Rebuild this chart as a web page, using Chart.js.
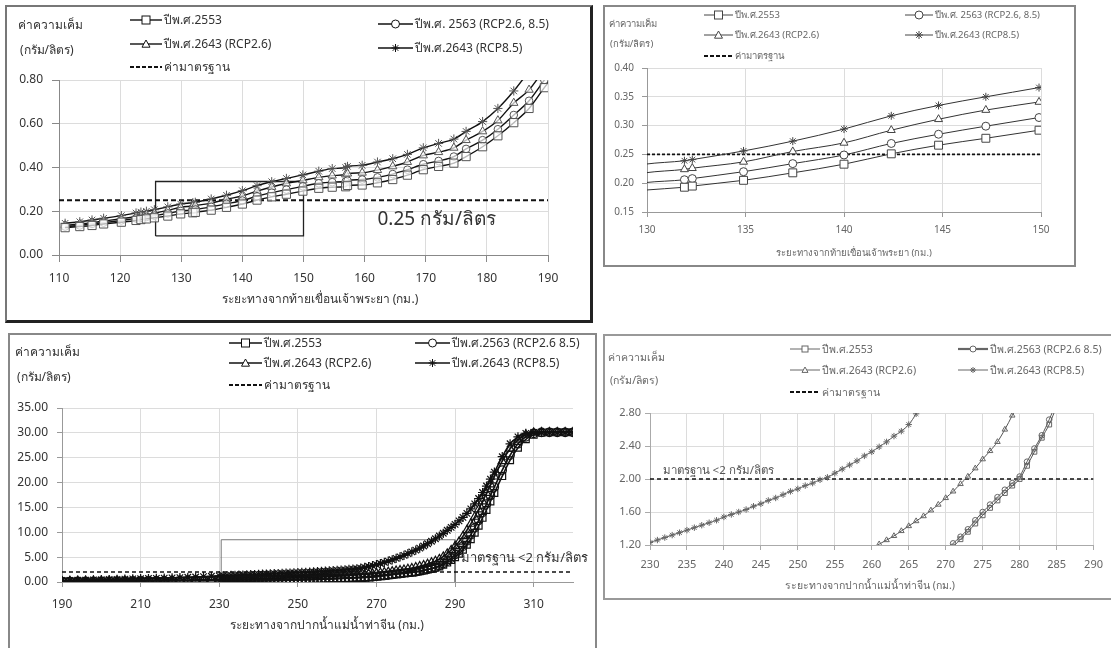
<!DOCTYPE html>
<html>
<head>
<meta charset="utf-8">
<script src="https://cdn.jsdelivr.net/npm/chart.js@4.4.1/dist/chart.umd.min.js"></script>
<style>
  body { margin: 0; width: 1111px; height: 648px; overflow: hidden; background: #fff; position: relative;
         font-family: Tahoma, "Noto Sans", sans-serif; }
  .box { position: absolute; box-sizing: border-box; }
  canvas { position: absolute; }
  .t { position: absolute; white-space: nowrap; line-height: 1; transform: translateY(-50%); }
  .c { transform: translate(-50%, -50%); }
  .leg { position: absolute; white-space: nowrap; display: flex; align-items: center; transform: translateY(-50%); line-height: 1; }
  .leg svg { margin-right: 2px; }
</style>
</head>
<body>
<div class="box" style="left:5px;top:5px;width:588px;height:318px;border:2px solid #777;border-right:3px solid #222;border-bottom:3px solid #222"></div>
<div class="box" style="left:603px;top:5px;width:473px;height:262px;border:2px solid #888"></div>
<div class="box" style="left:8px;top:333px;width:589px;height:340px;border:2px solid #888"></div>
<div class="box" style="left:603px;top:334px;width:530px;height:266px;border:2px solid #999"></div>

<canvas id="c1" width="600" height="320" style="left:0;top:0"></canvas>
<canvas id="c2" width="480" height="270" style="left:600px;top:0"></canvas>
<canvas id="c3" width="600" height="328" style="left:0;top:320px"></canvas>
<canvas id="c4" width="511" height="290" style="left:600px;top:320px"></canvas>

<script>
// แม่น้ำเจ้าพระยา: distance (km) and salinity (g/l)
const kmCP = [111, 113.4, 115.4, 117.3, 120.2, 122.6, 123.4, 124.3, 125.6, 127.8, 129.9, 131.9, 132.3, 134.9, 137.4, 140, 142.4, 144.8, 147.2, 149.9,
  152.5, 154.7, 156.9, 157.2, 159.6, 162.1, 164.6, 167, 169.6, 172.1, 174.6, 176.6, 179.3, 181.8, 184.4, 186.9, 189.4, 191.5]
const cp2553 = [0.125, 0.130, 0.135, 0.142, 0.150, 0.158, 0.162, 0.165, 0.170, 0.178, 0.188, 0.193, 0.195, 0.205, 0.218, 0.233, 0.251, 0.266, 0.278, 0.292,
  0.305, 0.310, 0.312, 0.318, 0.320, 0.330, 0.345, 0.365, 0.390, 0.405, 0.420, 0.450, 0.495, 0.545, 0.605, 0.670, 0.765, 0.840]
const cp2563 = [0.130, 0.135, 0.142, 0.148, 0.158, 0.167, 0.170, 0.174, 0.180, 0.190, 0.201, 0.206, 0.208, 0.220, 0.234, 0.249, 0.269, 0.285, 0.299, 0.314,
  0.328, 0.333, 0.336, 0.340, 0.345, 0.355, 0.370, 0.390, 0.415, 0.430, 0.450, 0.485, 0.525, 0.575, 0.640, 0.705, 0.800, 0.880]
const cp2643a = [0.135, 0.142, 0.148, 0.155, 0.166, 0.176, 0.180, 0.184, 0.191, 0.204, 0.218, 0.224, 0.226, 0.237, 0.255, 0.270, 0.292, 0.311, 0.327, 0.341,
  0.355, 0.363, 0.368, 0.372, 0.376, 0.388, 0.405, 0.425, 0.455, 0.470, 0.490, 0.525, 0.565, 0.615, 0.695, 0.755, 0.850, 0.930]
const cp2643b = [0.145, 0.152, 0.160, 0.168, 0.180, 0.192, 0.196, 0.200, 0.207, 0.220, 0.233, 0.239, 0.241, 0.256, 0.273, 0.294, 0.317, 0.335, 0.350, 0.366,
  0.383, 0.395, 0.400, 0.405, 0.410, 0.425, 0.440, 0.460, 0.490, 0.510, 0.530, 0.565, 0.610, 0.670, 0.750, 0.840, 0.930, 1.000]
const cpStandard = 0.25
const cpBox = [[125.8, 0.087], [125.8, 0.336], [150, 0.336], [150, 0.087], [125.8, 0.087]]

// แม่น้ำท่าจีน
const kmTC = [190, 192, 194, 196, 198, 200, 202, 204, 206, 208, 210, 212, 214, 216, 218, 220, 222, 224, 226, 228,
  230, 231, 232, 233, 234, 235, 236, 237, 238, 239, 240, 241, 242, 243, 244, 245, 246, 247, 248, 249,
  250, 251, 252, 253, 254, 255, 256, 257, 258, 259, 260, 261, 262, 263, 264, 265, 266, 267, 268, 269,
  270, 271, 272, 273, 274, 275, 276, 277, 278, 279, 280, 281, 282, 283, 284, 285, 286, 287, 288, 289,
  290, 291, 292, 293, 294, 295, 296, 297, 298, 299, 300,
  302, 304, 306, 308, 310, 312, 314, 316, 318, 320]
const tc2553 = [0.08, 0.09, 0.10, 0.11, 0.12, 0.13, 0.14, 0.15, 0.16, 0.17, 0.18, 0.19, 0.20, 0.21, 0.22, 0.24, 0.26, 0.28, 0.30, 0.32,
  0.33, 0.34, 0.35, 0.36, 0.37, 0.38, 0.39, 0.40, 0.41, 0.42, 0.43, 0.44, 0.45, 0.46, 0.47, 0.48, 0.49, 0.50, 0.51, 0.52,
  0.53, 0.55, 0.56, 0.58, 0.59, 0.61, 0.63, 0.65, 0.67, 0.69, 0.71, 0.73, 0.75, 0.78, 0.81, 0.84, 0.87, 0.91, 0.96, 1.01,
  1.08, 1.18, 1.27, 1.36, 1.46, 1.56, 1.65, 1.74, 1.83, 1.92, 2.00, 2.16, 2.33, 2.50, 2.66, 2.88, 3.10, 3.45, 3.90, 4.40,
  5.0, 5.7, 6.5, 7.5, 8.6, 9.9, 11.3, 12.9, 14.5, 16.2, 17.9,
  21.3, 24.5, 27.0, 28.7, 29.6, 30.0, 30.1, 30.1, 30.1, 30.1]
const tc2563 = [0.10, 0.11, 0.12, 0.13, 0.14, 0.15, 0.16, 0.17, 0.18, 0.19, 0.20, 0.21, 0.22, 0.23, 0.24, 0.26, 0.28, 0.30, 0.32, 0.34,
  0.35, 0.36, 0.37, 0.38, 0.39, 0.40, 0.41, 0.42, 0.43, 0.44, 0.45, 0.46, 0.47, 0.48, 0.49, 0.50, 0.51, 0.52, 0.53, 0.54,
  0.55, 0.57, 0.58, 0.60, 0.61, 0.63, 0.65, 0.67, 0.69, 0.71, 0.73, 0.75, 0.77, 0.80, 0.83, 0.86, 0.89, 0.93, 0.98, 1.04,
  1.12, 1.22, 1.30, 1.39, 1.50, 1.60, 1.69, 1.78, 1.87, 1.95, 2.03, 2.21, 2.37, 2.53, 2.72, 2.95, 3.30, 3.70, 4.20, 4.80,
  5.5, 6.3, 7.2, 8.3, 9.5, 10.9, 12.4, 14.0, 15.7, 17.4, 19.1,
  22.5, 25.5, 27.8, 29.2, 29.9, 30.1, 30.1, 30.1, 30.1, 30.1]
const tc2643a = [0.15, 0.16, 0.17, 0.18, 0.19, 0.21, 0.22, 0.23, 0.25, 0.26, 0.28, 0.29, 0.31, 0.33, 0.35, 0.37, 0.39, 0.42, 0.45, 0.48,
  0.52, 0.53, 0.55, 0.56, 0.57, 0.58, 0.60, 0.61, 0.62, 0.64, 0.65, 0.67, 0.69, 0.71, 0.73, 0.75, 0.77, 0.79, 0.81, 0.83,
  0.85, 0.87, 0.90, 0.93, 0.95, 0.98, 1.01, 1.05, 1.08, 1.12, 1.16, 1.21, 1.26, 1.31, 1.37, 1.43, 1.49, 1.55, 1.62, 1.69,
  1.77, 1.85, 1.94, 2.03, 2.13, 2.24, 2.34, 2.45, 2.60, 2.77, 2.95, 3.15, 3.35, 3.60, 3.90, 4.20, 4.60, 5.10, 5.70, 6.40,
  7.2, 8.1, 9.2, 10.4, 11.7, 13.1, 14.6, 16.2, 17.9, 19.6, 21.2,
  24.3, 26.8, 28.6, 29.6, 30.0, 30.1, 30.1, 30.1, 30.1, 30.1]
const tc2643b = [0.30, 0.33, 0.36, 0.39, 0.42, 0.46, 0.50, 0.54, 0.58, 0.62, 0.66, 0.70, 0.74, 0.79, 0.84, 0.89, 0.95, 1.01, 1.08, 1.15,
  1.23, 1.26, 1.29, 1.32, 1.35, 1.38, 1.41, 1.44, 1.47, 1.50, 1.54, 1.57, 1.60, 1.63, 1.67, 1.70, 1.74, 1.77, 1.81, 1.85,
  1.88, 1.92, 1.95, 1.99, 2.02, 2.07, 2.12, 2.17, 2.22, 2.28, 2.33, 2.39, 2.45, 2.52, 2.58, 2.66, 2.79, 2.95, 3.12, 3.30,
  3.50, 3.72, 3.95, 4.20, 4.47, 4.75, 5.05, 5.37, 5.70, 6.05, 6.42, 6.82, 7.25, 7.70, 8.20, 8.70, 9.25, 9.80, 10.4, 11.0,
  11.6, 12.3, 13.0, 13.8, 14.7, 15.7, 16.8, 18.0, 19.3, 20.7, 22.1,
  25.2, 27.8, 29.2, 29.9, 30.1, 30.1, 30.1, 30.1, 30.1, 30.1]
const tcStandard = 2
const tcBox = [[230.5, 0], [230.5, 8.5], [290, 8.5], [290, 0]]

// ticks
const x1Ticks = [110, 120, 130, 140, 150, 160, 170, 180, 190]
const y1Ticks = [0, 0.2, 0.4, 0.6, 0.8]
const x2Ticks = [130, 135, 140, 145, 150]
const y2Ticks = [0.15, 0.2, 0.25, 0.3, 0.35, 0.4]
const x3Ticks = [190, 210, 230, 250, 270, 290, 310]
const y3Ticks = [0, 5, 10, 15, 20, 25, 30, 35]
const x4Ticks = [230, 235, 240, 245, 250, 255, 260, 265, 270, 275, 280, 285, 290]
const y4Ticks = [1.2, 1.6, 2.0, 2.4, 2.8]

const labelsCP = ['ปีพ.ศ.2553', 'ปีพ.ศ. 2563 (RCP2.6, 8.5)', 'ปีพ.ศ.2643 (RCP2.6)', 'ปีพ.ศ.2643 (RCP8.5)', 'ค่ามาตรฐาน']
const labelsTC = ['ปีพ.ศ.2553', 'ปีพ.ศ.2563 (RCP2.6 8.5)', 'ปีพ.ศ.2643 (RCP2.6)', 'ปีพ.ศ.2643 (RCP8.5)', 'ค่ามาตรฐาน']
const unit1 = 'ค่าความเค็ม'
const unit2 = '(กรัม/ลิตร)'
const titleCP = 'ระยะทางจากท้ายเขื่อนเจ้าพระยา  (กม.)'
const titleTC = 'ระยะทางจากปากน้ำแม่น้ำท่าจีน (กม.)'

const FONT = 'Tahoma, "Noto Sans", sans-serif'
const styles = ['rect', 'circle', 'triangle', 'star']

function pts(xs, ys) { return xs.map((x, i) => ({ x: x, y: ys[i] })) }

const notePlugin = {
  id: 'note',
  afterDatasetsDraw(chart, args, o) {
    if (!o || !o.text) return
    const ctx = chart.ctx
    ctx.save()
    ctx.font = o.size + 'px ' + FONT
    ctx.fillStyle = o.color
    ctx.textBaseline = 'middle'
    ctx.fillText(o.text, chart.scales.x.getPixelForValue(o.x), chart.scales.y.getPixelForValue(o.y))
    ctx.restore()
  }
}

function makeChart(id, o) {
  const series = o.series.map((ys, i) => ({
    data: pts(o.km, ys),
    borderColor: o.line, borderWidth: o.lw,
    pointStyle: styles[i], pointRadius: o.radius ? o.radius[i] : o.r[i],
    pointBorderColor: o.marker, pointBackgroundColor: o.fill, pointBorderWidth: o.mw,
    cubicInterpolationMode: 'monotone'
  }))
  series.push({
    data: [{ x: o.xTicks[0], y: o.standard }, { x: o.xMax, y: o.standard }],
    borderColor: '#111', borderWidth: o.dw, borderDash: o.dash, pointRadius: 0
  })
  if (o.box) series.push({
    data: o.box.map(p => ({ x: p[0], y: p[1] })),
    borderColor: o.boxColor, borderWidth: o.boxWidth, pointRadius: 0, tension: 0
  })
  const tickFont = { family: FONT, size: o.fs }
  return new Chart(document.getElementById(id), {
    type: 'line',
    data: { datasets: series },
    options: {
      responsive: false, animation: false, events: [], devicePixelRatio: 1,
      layout: { padding: o.padding },
      plugins: { legend: { display: false }, tooltip: { enabled: false }, note: o.note },
      scales: {
        x: {
          type: 'linear', min: o.xTicks[0], max: o.xMax,
          afterBuildTicks: s => { s.ticks = o.xTicks.map(v => ({ value: v })) },
          afterFit: s => { s.height = o.xH },
          ticks: { font: tickFont, color: o.tc, padding: o.xPad, maxRotation: 0, autoSkip: false },
          grid: { color: '#dcdcdc', tickColor: o.axis, tickLength: o.tl },
          border: { color: o.axis, width: 1 }
        },
        y: {
          min: o.yTicks[0], max: o.yTicks[o.yTicks.length - 1],
          afterBuildTicks: s => { s.ticks = o.yTicks.map(v => ({ value: v })) },
          afterFit: s => { s.width = o.yW },
          ticks: { font: tickFont, color: o.tc, padding: o.yPad, callback: v => v.toFixed(2) },
          grid: { color: '#dcdcdc', tickColor: o.axis, tickLength: o.tl },
          border: { color: o.axis, width: 1 }
        }
      }
    },
    plugins: [notePlugin]
  })
}

function icon(type, w, color, lw, r) {
  const h = 14, cy = 7, cx = w / 2
  let s = '<svg width="' + w + '" height="' + h + '">'
  if (type === 'dash') {
    s += '<line x1="0" y1="' + cy + '" x2="' + w + '" y2="' + cy + '" stroke="#111" stroke-width="2" stroke-dasharray="4 2"/>'
    return s + '</svg>'
  }
  s += '<line x1="0" y1="' + cy + '" x2="' + w + '" y2="' + cy + '" stroke="' + color + '" stroke-width="' + lw + '"/>'
  const st = ' fill="#fff" stroke="' + color + '" stroke-width="1"'
  if (type === 'rect') s += '<rect x="' + (cx - r) + '" y="' + (cy - r) + '" width="' + 2 * r + '" height="' + 2 * r + '"' + st + '/>'
  if (type === 'circle') s += '<circle cx="' + cx + '" cy="' + cy + '" r="' + r + '"' + st + '/>'
  if (type === 'triangle') s += '<polygon points="' + (cx - r) + ',' + (cy + r * 0.8) + ' ' + (cx + r) + ',' + (cy + r * 0.8) + ' ' + cx + ',' + (cy - r) + '"' + st + '/>'
  if (type === 'star') {
    s += '<path d="M' + (cx - r) + ' ' + cy + 'H' + (cx + r) + 'M' + cx + ' ' + (cy - r) + 'V' + (cy + r) +
      'M' + (cx - r * 0.7) + ' ' + (cy - r * 0.7) + 'L' + (cx + r * 0.7) + ' ' + (cy + r * 0.7) +
      'M' + (cx - r * 0.7) + ' ' + (cy + r * 0.7) + 'L' + (cx + r * 0.7) + ' ' + (cy - r * 0.7) + '" stroke="' + color + '" stroke-width="1"/>'
  }
  return s + '</svg>'
}

function text(x, y, str, size, color, center) {
  const d = document.createElement('div')
  d.className = center ? 't c' : 't'
  d.style.cssText = 'left:' + x + 'px;top:' + y + 'px;font-size:' + size + 'px;color:' + color
  d.textContent = str
  document.body.appendChild(d)
}

function legend(labels, pos, size, color, lineColor, lws, r) {
  const types = ['rect', 'circle', 'triangle', 'star', 'dash']
  pos.forEach((p, i) => {
    const d = document.createElement('div')
    d.className = 'leg'
    d.style.cssText = 'left:' + p[0] + 'px;top:' + p[1] + 'px;font-size:' + size + 'px;color:' + color
    d.innerHTML = icon(types[i], p[2], lineColor, lws[i], r)
    const sp = document.createElement('span')
    sp.textContent = labels[i]
    d.appendChild(sp)
    document.body.appendChild(d)
  })
}

// chart 1: เจ้าพระยา 110-190
makeChart('c1', {
  km: kmCP, series: [cp2553, cp2563, cp2643a, cp2643b],
  xTicks: x1Ticks, xMax: 190, yTicks: y1Ticks, standard: cpStandard, box: cpBox,
  padding: { top: 80, right: 52, bottom: 0, left: 0 }, xH: 65, yW: 59,
  line: '#111', lw: 1.4, marker: '#555', fill: 'rgba(255,255,255,0.7)', mw: 1, r: [5.8, 3.8, 4.8, 4.6],
  dw: 2, dash: [5, 3], boxColor: '#222', boxWidth: 1.3,
  fs: 12, tc: '#333', axis: '#888', tl: 7, xPad: 9, yPad: 9,
  note: { text: '0.25 กรัม/ลิตร', x: 162.1, y: 0.16, size: 19, color: '#333' }
})

// chart 2: เจ้าพระยา 130-150
makeChart('c2', {
  km: kmCP, series: [cp2553, cp2563, cp2643a, cp2643b],
  xTicks: x2Ticks, xMax: 150, yTicks: y2Ticks, standard: cpStandard,
  padding: { top: 68, right: 39, bottom: 0, left: 0 }, xH: 58, yW: 47,
  line: '#333', lw: 1, marker: '#444', fill: '#fff', mw: 1,
  radius: [0, 1, 2, 3].map(i => c => (c.raw.x < 130.5 ? 0 : [5.6, 4, 4.6, 4][i])),
  dw: 1.6, dash: [3, 2],
  fs: 10, tc: '#666', axis: '#999', tl: 5, xPad: 7, yPad: 8
})

// chart 3: ท่าจีน 190-320
makeChart('c3', {
  km: kmTC, series: [tc2553, tc2563, tc2643a, tc2643b],
  xTicks: x3Ticks, xMax: 320, yTicks: y3Ticks, standard: tcStandard, box: tcBox,
  padding: { top: 88, right: 27, bottom: 0, left: 0 }, xH: 66, yW: 62,
  line: '#111', lw: 1.6, marker: '#111', fill: 'rgba(255,255,255,0)', mw: 1.2, r: [4.8, 4.2, 4.8, 4.6],
  dw: 1.6, dash: [4, 3], boxColor: '#777', boxWidth: 1,
  fs: 12, tc: '#333', axis: '#999', tl: 5, xPad: 10, yPad: 9,
  note: { text: 'มาตรฐาน <2 กรัม/ลิตร', x: 291.4, y: 4.8, size: 13, color: '#333' }
})

// chart 4: ท่าจีน 230-290
makeChart('c4', {
  km: kmTC, series: [tc2553, tc2563, tc2643a, tc2643b],
  xTicks: x4Ticks, xMax: 290, yTicks: y4Ticks, standard: tcStandard,
  padding: { top: 93, right: 9, bottom: 0, left: 0 }, xH: 65, yW: 50,
  line: '#555', lw: 1, marker: '#666', fill: 'rgba(255,255,255,0)', mw: 1, r: [3.4, 2.8, 3.2, 3.2],
  dw: 1.6, dash: [4, 3],
  fs: 11, tc: '#666', axis: '#aaa', tl: 5, xPad: 8, yPad: 4,
  note: { text: 'มาตรฐาน <2 กรัม/ลิตร', x: 231.7, y: 2.1, size: 11.5, color: '#555' }
})

// units, axis titles, legends
text(18, 25, unit1, 12, '#333'); text(20, 50, unit2, 12, '#333')
text(320, 299, titleCP, 12, '#333', true)
legend(labelsCP, [[130, 20, 32], [378, 24, 35], [130, 44, 32], [378, 48, 35], [130, 67, 32]], 12, '#333', '#111', [1.4, 1.4, 1.4, 1.4], 4)

text(609, 24, unit1, 9.5, '#666'); text(610, 44, unit2, 9.5, '#666')
text(854, 253, titleCP, 9.5, '#666', true)
legend(labelsCP, [[704, 15, 29], [905, 15, 28], [704, 35, 29], [905, 35, 28], [704, 56, 29]], 9.5, '#666', '#444', [1, 1, 1, 1], 4)

text(15, 352, unit1, 12, '#333'); text(17, 377, unit2, 12, '#333')
text(327, 625, titleTC, 12, '#333', true)
legend(labelsTC, [[229, 343, 33], [415, 343, 35], [229, 363, 33], [415, 363, 35], [229, 385, 33]], 12, '#333', '#111', [1.4, 1.4, 1.4, 1.4], 4)

text(608, 357, unit1, 10.5, '#666'); text(610, 380, unit2, 10.5, '#666')
text(870, 585, titleTC, 10.5, '#666', true)
legend(labelsTC, [[790, 349, 30], [958, 349, 30], [790, 370, 30], [958, 370, 30], [790, 392, 30]], 10.5, '#666', '#666', [1, 2.2, 1, 1], 3)
</script>
</body>
</html>
